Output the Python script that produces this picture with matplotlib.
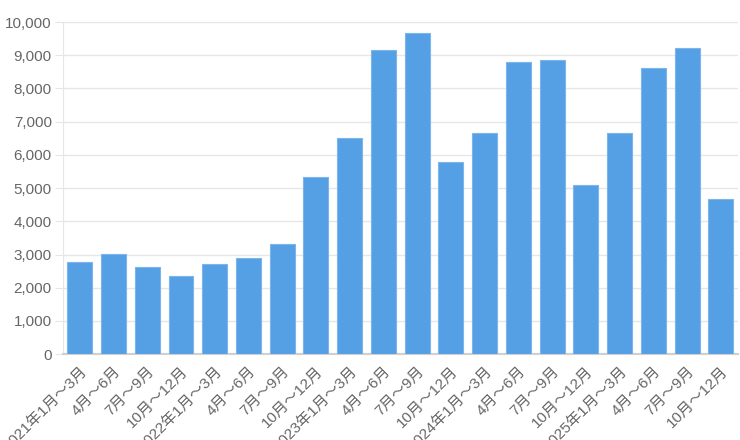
import matplotlib
matplotlib.use("Agg")
import matplotlib.pyplot as plt
from matplotlib.ticker import FuncFormatter

plt.rcParams['font.family'] = ['Liberation Sans', 'Noto Sans CJK JP', 'DejaVu Sans']

labels = ['2021年1月～3月', '4月～6月', '7月～9月', '10月～12月',
          '2022年1月～3月', '4月～6月', '7月～9月', '10月～12月',
          '2023年1月～3月', '4月～6月', '7月～9月', '10月～12月',
          '2024年1月～3月', '4月～6月', '7月～9月', '10月～12月',
          '2025年1月～3月', '4月～6月', '7月～9月', '10月～12月']
values = [2780, 3030, 2630, 2340, 2730, 2910, 3320, 5330, 6500, 9170,
          9680, 5800, 6650, 8800, 8850, 5100, 6650, 8630, 9230, 4670]

fig = plt.figure(figsize=(7.4, 4.4), dpi=100)
ax = fig.add_axes([0.085, 0.195, 0.912, 0.755])

x = range(len(values))
ax.bar(x, values, width=0.74, color='#559fe4', edgecolor='#7ab5ec', linewidth=0.8, zorder=3)

ax.set_ylim(0, 10000)
ax.set_xlim(-0.5, len(values) - 0.5)
ax.set_yticks(range(0, 10001, 1000))
ax.yaxis.set_major_formatter(FuncFormatter(lambda v, p: f'{int(v):,}'))
ax.grid(axis='y', color='#e6e6e6', linewidth=1, zorder=0)

ax.set_xticks(list(x))
ax.set_xticklabels(labels, rotation=45, ha='right', rotation_mode='anchor')

for s in ['top', 'right']:
    ax.spines[s].set_visible(False)
ax.spines['left'].set_color('#e6e6e6')
ax.spines['bottom'].set_color('#d0d0d0')
ax.spines['bottom'].set_linewidth(1.5)

ax.tick_params(axis='y', colors='#e6e6e6', labelcolor='#666666', labelsize=11, length=6, pad=2)
ax.tick_params(axis='x', length=0, labelcolor='#666666', labelsize=11, pad=7)

fig.savefig('out.png', dpi=100)
